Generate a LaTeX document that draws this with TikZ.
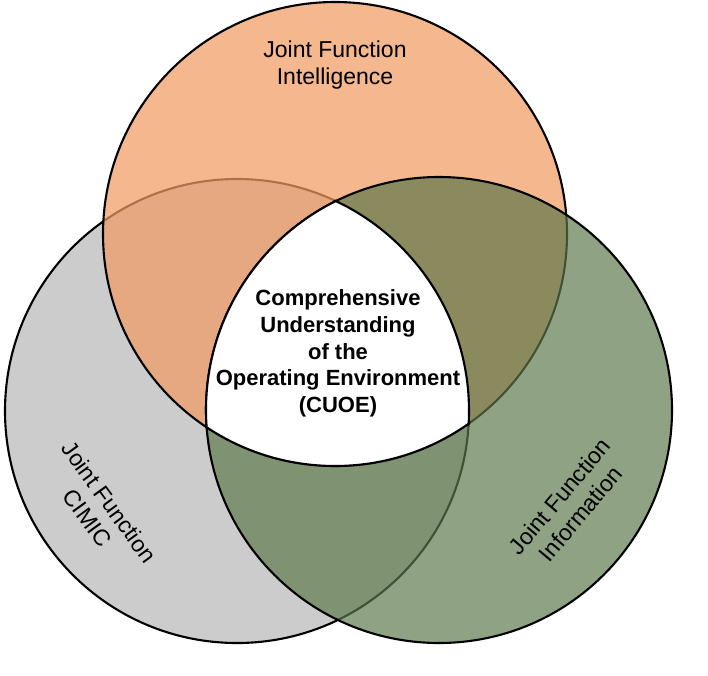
\documentclass[tikz,border=0pt]{standalone}
\usepackage{fontspec}
\setmainfont{Liberation Sans}
\begin{document}
\begin{tikzpicture}[x=1pt,y=-1pt]
\definecolor{grayfill}{RGB}{204,204,204}
\definecolor{orangefill}{RGB}{241,156,100}
\definecolor{greenfill}{RGB}{93,120,75}
\tikzset{
  ring/.style={line width=2.1pt, draw=black},
  lbl/.style={font=\fontsize{23}{27}\selectfont, align=center, inner sep=0pt},
  blbl/.style={font=\bfseries\fontsize{22}{26.7}\selectfont, align=center, inner sep=0pt}
}
\useasboundingbox (0,0) rectangle (708,675);
\coordinate (cg) at (237,411);
\coordinate (co) at (335,234);
\coordinate (cn) at (439,410);
% gray circle (CIMIC)
\fill[grayfill] (cg) circle[radius=232pt];
\draw[ring] (cg) circle[radius=232pt];
% orange circle (Intelligence)
\fill[orangefill, fill opacity=0.73] (co) circle[radius=232pt];
\draw[ring] (co) circle[radius=232pt];
% green circle (Information)
\fill[greenfill, fill opacity=0.69] (cn) circle[radius=233pt];
\draw[ring] (cn) circle[radius=233pt];
% white centre
\begin{scope}
  \clip (cg) circle[radius=232pt];
  \clip (co) circle[radius=232pt];
  \fill[white] (cn) circle[radius=233pt];
\end{scope}
\begin{scope}
  \clip (cg) circle[radius=233.5pt];
  \clip (co) circle[radius=233.5pt];
  \draw[ring] (cn) circle[radius=233pt];
\end{scope}
\begin{scope}
  \clip (cg) circle[radius=233.5pt];
  \clip (cn) circle[radius=234.5pt];
  \draw[ring] (co) circle[radius=232pt];
\end{scope}
\begin{scope}
  \clip (co) circle[radius=233.5pt];
  \clip (cn) circle[radius=234.5pt];
  \draw[ring] (cg) circle[radius=232pt];
\end{scope}
% labels
\node[lbl] (intel) at (335,65) {Joint Function\\Intelligence};
\node[lbl, rotate=-54] (cimic) at (98.5,510) {Joint Function\\CIMIC};
\node[lbl, rotate=50] (info) at (570,505) {Joint Function\\Information};
\node[blbl] (cuoe) at (338,353.5) {Comprehensive\\Understanding\\of the\\Operating Environment\\(CUOE)};
\end{tikzpicture}
\end{document}
